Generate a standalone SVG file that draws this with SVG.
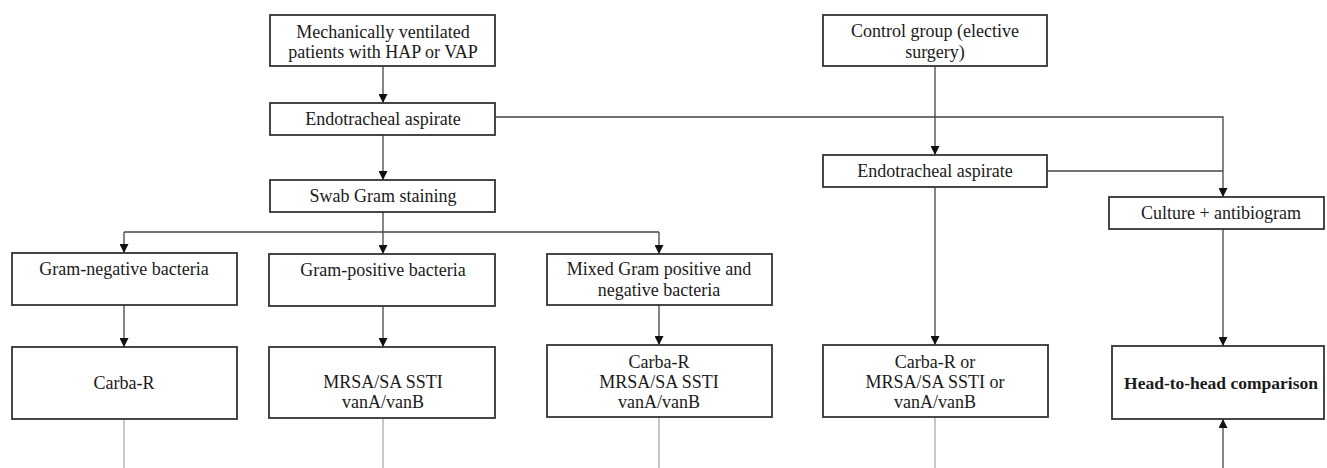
<svg xmlns="http://www.w3.org/2000/svg" width="1327" height="468" viewBox="0 0 1327 468">
<style>
.box{fill:#fff;stroke:#333;stroke-width:1.8}
.t{font-family:"Liberation Serif","Times New Roman",serif;font-size:18px;fill:#1a1a1a;text-anchor:middle}
.b{font-weight:bold;font-size:17.5px}
.ln{fill:none;stroke:#444;stroke-width:1.3}
.lt{fill:none;stroke:#aaa;stroke-width:1.3}
</style>
<defs>
<marker id="ah" viewBox="0 0 10 10" refX="10" refY="5" markerWidth="9" markerHeight="9" markerUnits="userSpaceOnUse" orient="auto">
<path d="M0,0 L10,5 L0,10 z" fill="#111"/>
</marker>
</defs>
<rect width="1327" height="468" fill="#fff"/>
<g id="connectors">
<path class="ln" d="M383,66 V103" marker-end="url(#ah)"/>
<path class="ln" d="M383,135 V180" marker-end="url(#ah)"/>
<path class="ln" d="M495,117 H1223 V197" marker-end="url(#ah)"/>
<path class="ln" d="M935,66 V155" marker-end="url(#ah)"/>
<path class="ln" d="M1047,171 H1223"/>
<path class="ln" d="M383,212 V254" marker-end="url(#ah)"/>
<path class="ln" d="M124,232 H659"/>
<path class="ln" d="M124,232 V253" marker-end="url(#ah)"/>
<path class="ln" d="M659,232 V254" marker-end="url(#ah)"/>
<path class="ln" d="M124,305 V347" marker-end="url(#ah)"/>
<path class="ln" d="M383,306 V347" marker-end="url(#ah)"/>
<path class="ln" d="M659,305 V345" marker-end="url(#ah)"/>
<path class="ln" d="M935,187 V345" marker-end="url(#ah)"/>
<path class="ln" d="M1223,229 V346" marker-end="url(#ah)"/>
<path class="ln" d="M1223,468 V419" marker-end="url(#ah)"/>
<path class="lt" d="M124,419 V468"/>
<path class="lt" d="M383,418 V468"/>
<path class="lt" d="M659,417 V468"/>
<path class="lt" d="M935,417 V468"/>
</g>
<g id="n_mv">
<rect class="box" x="270" y="15" width="225" height="51"/>
<text class="t" x="383" y="38">Mechanically ventilated</text>
<text class="t" x="383" y="58">patients with HAP or VAP</text>
</g>
<g id="n_ea1">
<rect class="box" x="270" y="103" width="225" height="32"/>
<text class="t" x="383" y="125">Endotracheal aspirate</text>
</g>
<g id="n_swab">
<rect class="box" x="270" y="180" width="225" height="32"/>
<text class="t" x="383" y="202">Swab Gram staining</text>
</g>
<g id="n_ctrl">
<rect class="box" x="823" y="15" width="224" height="51"/>
<text class="t" x="935" y="37">Control group (elective</text>
<text class="t" x="935" y="58">surgery)</text>
</g>
<g id="n_ea2">
<rect class="box" x="823" y="155" width="224" height="32"/>
<text class="t" x="935" y="177">Endotracheal aspirate</text>
</g>
<g id="n_cult">
<rect class="box" x="1109" y="197" width="215" height="32"/>
<text class="t" x="1221" y="219">Culture + antibiogram</text>
</g>
<g id="n_gneg">
<rect class="box" x="12" y="253" width="225" height="52"/>
<text class="t" x="124" y="275">Gram-negative bacteria</text>
</g>
<g id="n_gpos">
<rect class="box" x="269" y="254" width="226" height="52"/>
<text class="t" x="383" y="276">Gram-positive bacteria</text>
</g>
<g id="n_mixed">
<rect class="box" x="547" y="254" width="225" height="51"/>
<text class="t" x="659" y="275">Mixed Gram positive and</text>
<text class="t" x="659" y="296">negative bacteria</text>
</g>
<g id="n_carba">
<rect class="box" x="12" y="347" width="225" height="72"/>
<text class="t" x="124" y="389">Carba-R</text>
</g>
<g id="n_mrsa">
<rect class="box" x="269" y="347" width="226" height="71"/>
<text class="t" x="383" y="388">MRSA/SA SSTI</text>
<text class="t" x="383" y="408">vanA/vanB</text>
</g>
<g id="n_mix2">
<rect class="box" x="547" y="345" width="225" height="72"/>
<text class="t" x="659" y="368">Carba-R</text>
<text class="t" x="659" y="388">MRSA/SA SSTI</text>
<text class="t" x="659" y="408">vanA/vanB</text>
</g>
<g id="n_ctrl2">
<rect class="box" x="823" y="345" width="225" height="72"/>
<text class="t" x="935" y="368">Carba-R or</text>
<text class="t" x="935" y="388">MRSA/SA SSTI or</text>
<text class="t" x="935" y="408">vanA/vanB</text>
</g>
<g id="n_h2h">
<rect class="box" x="1112" y="346" width="212" height="73"/>
<text class="t b" x="1221" y="389">Head-to-head comparison</text>
</g>
</svg>
